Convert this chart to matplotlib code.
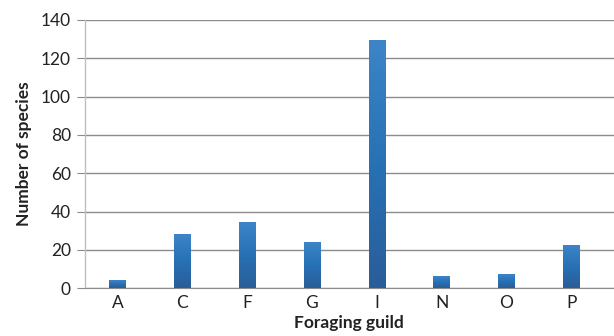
import numpy as np
import matplotlib
matplotlib.use("Agg")
import matplotlib.pyplot as plt
from matplotlib.colors import LinearSegmentedColormap

guilds = ["A", "C", "F", "G", "I", "N", "O", "P"]
species_counts = [4, 28, 34, 24, 129, 6, 7, 22]
y_ticks = [0, 20, 40, 60, 80, 100, 120, 140]

plt.rcParams["font.family"] = ["Lato", "DejaVu Sans"]

fig = plt.figure(figsize=(6.14, 3.36), dpi=100)
ax = fig.add_axes([84.7 / 614, 1 - 288.3 / 336, (614 - 84.7) / 614, (288.3 - 20) / 336])

x = np.arange(len(guilds))
bars = ax.bar(x, species_counts, width=0.25, color="none", edgecolor="none", zorder=3)

# vertical blue gradient filling each bar
cmap = LinearSegmentedColormap.from_list("barfill", ["#2a5d98", "#2771b5", "#3d84c8"])
grad = np.linspace(0, 1, 256).reshape(-1, 1)
for b in bars:
    x0, y0 = b.get_x(), b.get_y()
    w, h = b.get_width(), b.get_height()
    ax.imshow(grad, cmap=cmap, origin="lower", aspect="auto",
              extent=(x0, x0 + w, y0, y0 + h), zorder=3)

ax.set_xlim(-0.506, 7.66)
ax.set_ylim(0, 140)
ax.set_yticks(y_ticks)
ax.set_xticks(x)
ax.set_xticklabels(guilds)

ax.grid(axis="y", color="#8c8c8c", linewidth=1.0, zorder=0)
ax.set_axisbelow(True)
for side in ["top", "right"]:
    ax.spines[side].set_visible(False)
ax.spines["left"].set_color("#bfbfbf")
ax.spines["bottom"].set_color("#8c8c8c")
ax.spines["left"].set_linewidth(1.0)
ax.tick_params(axis="y", length=6, color="#8c8c8c", labelsize=12.5,
               labelcolor="#222222", pad=4)
ax.tick_params(axis="x", length=0, labelsize=12.5, labelcolor="#222222", pad=5)

ax.set_ylabel("Number of species", fontsize=12.5, fontweight="bold",
              color="#222222", labelpad=6)
ax.set_xlabel("Foraging guild", fontsize=12.5, fontweight="bold",
              color="#222222", labelpad=3)

fig.savefig("out.png", dpi=100)
